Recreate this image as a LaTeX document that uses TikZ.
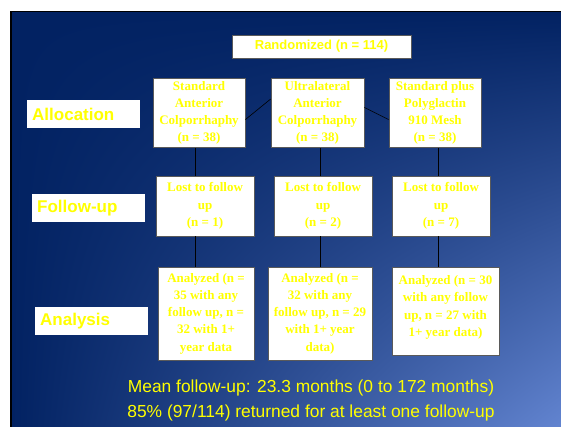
\documentclass[tikz,border=0pt]{standalone}
\usepackage{fontspec}
\setmainfont{Liberation Serif}
\newfontfamily\arial{Liberation Sans}
\usetikzlibrary{calc,shadings}
\definecolor{bgdark}{RGB}{2,34,98}
\definecolor{bglight}{RGB}{98,132,208}
\definecolor{ylw}{RGB}{255,255,0}
\definecolor{bordergray}{RGB}{90,90,90}
\tikzset{
  box/.style={draw=bordergray, line width=0.8pt, fill=white, text=ylw,
    align=center, inner sep=1pt, font=\fontsize{13}{17.2}\selectfont\bfseries},
  randbox/.style={draw=bordergray, line width=0.8pt, fill=white, text=ylw,
    inner sep=1pt, font=\fontsize{13}{16}\selectfont\arial\bfseries},
  stage/.style={fill=white, text=ylw, anchor=west, inner xsep=5pt, inner ysep=0pt,
    minimum height=28, text width=103pt, font=\fontsize{17}{20}\selectfont\arial\bfseries},
  conn/.style={draw=black, line width=0.6pt},
  note/.style={text=ylw, align=center, font=\fontsize{17.4}{25}\selectfont\arial}
}
\begin{document}
\begin{tikzpicture}[x=1pt,y=-1pt]
\useasboundingbox (0,0) rectangle (561,427);
\fill[white] (0,0) rectangle (561,427);
\fill[black] (10,11) rectangle (561,427);
\shade[upper left=bgdark, upper right=bgdark, lower left=bgdark, lower right=bglight]
  (12,13) rectangle (561,427);

% top
\node[randbox, minimum width=179, minimum height=23] (rand) at (321.5,46.5) {Randomized (n = 114)};

% stage labels
\node[stage] (lalloc) at (27,114) {Allocation};
\node[stage] (lfollow) at (32,208) {Follow-up};
\node[stage] (lanal) at (35,321) {Analysis};

% allocation
\node[box, minimum width=92, minimum height=69] (a1) at (199,113) {Standard\\Anterior\\Colporrhaphy\\(n = 38)};
\node[box, minimum width=93, minimum height=69] (a2) at (317.5,113) {Ultralateral\\Anterior\\Colporrhaphy\\(n = 38)};
\node[box, minimum width=92, minimum height=69] (a3) at (435,113) {Standard plus\\Polyglactin\\910 Mesh\\(n = 38)};

% follow-up
\node[box, minimum width=98, minimum height=60] (f1) at (205,206) {Lost to follow\\up\\(n = 1)};
\node[box, minimum width=98, minimum height=60] (f2) at (323,206) {Lost to follow\\up\\(n = 2)};
\node[box, minimum width=98, minimum height=60] (f3) at (441,206) {Lost to follow\\up\\(n = 7)};

% analysis
\node[box, minimum width=96, minimum height=93] (an1) at (206,313.5) {Analyzed (n =\\35 with any\\follow up, n =\\32 with 1+\\year data};
\node[box, minimum width=104, minimum height=93] (an2) at (320,313.5) {Analyzed (n =\\32 with any\\follow up, n = 29\\with 1+ year\\data)};
\node[box, minimum width=107, minimum height=88] (an3) at (445.5,311) {Analyzed (n = 30\\with any follow\\up, n = 27 with\\1+ year data)\\[-7pt]\mbox{}};

% connectors
\draw[conn] ($(a1.north east)!0.594!(a1.south east)$) -- ($(a2.north west)!0.30!(a2.south west)$);
\draw[conn] ($(a2.north east)!0.42!(a2.south east)$) -- ($(a3.north west)!0.594!(a3.south west)$);

\coordinate (c1) at (195,0);
\coordinate (c2) at (320,0);
\coordinate (c3) at (438,0);
\draw[conn] (a1.south -| c1) -- (f1.north -| c1);
\draw[conn] (f1.south -| c1) -- (an1.north -| c1);
\draw[conn] (a2.south -| c2) -- (f2.north -| c2);
\draw[conn] (f2.south -| c2) -- (an2.north -| c2);
\draw[conn] (a3.south -| c3) -- (f3.north -| c3);
\draw[conn] (f3.south -| c3) -- (an3.north -| c3);

% bottom notes
\node[note] (notes) at (311,400) {Mean follow-up: 23.3 months (0 to 172 months)\\85\% (97/114) returned for at least one follow-up};
\end{tikzpicture}
\end{document}
